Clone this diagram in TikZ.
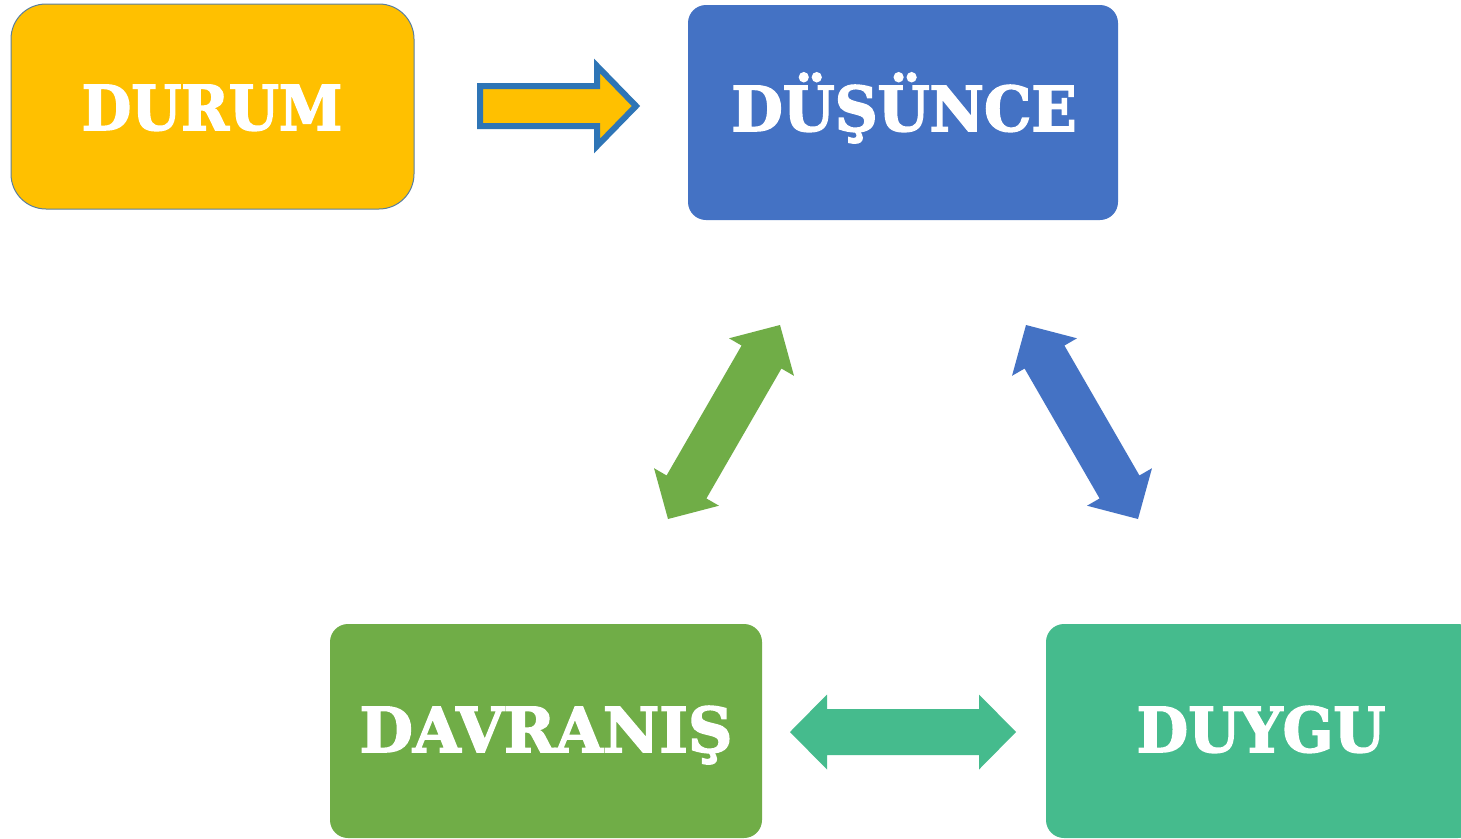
\documentclass[tikz,border=0pt]{standalone}
\usepackage{graphicx}
\usepackage{fontspec}
\setmainfont{DejaVu Serif}
\newfontfamily\labelfont[FakeBold=2.5,FakeStretch=0.96]{DejaVu Serif Bold}
\usetikzlibrary{calc}
\definecolor{cyellow}{HTML}{FFC000}
\definecolor{cblue}{HTML}{4472C4}
\definecolor{cgreen}{HTML}{70AD47}
\definecolor{cteal}{HTML}{45BB8D}
\definecolor{cline}{HTML}{2E75B6}
\definecolor{cborder}{HTML}{5A7F9E}
\newcommand{\blockdbl}[3]{%
  \fill[#3] (#1)
    -- ($(#1)!37pt!(#2)!37.5pt!90:(#2)$)
    -- ($(#1)!37pt!(#2)!23pt!90:(#2)$)
    -- ($(#2)!37pt!(#1)!23pt!-90:(#1)$)
    -- ($(#2)!37pt!(#1)!37.5pt!-90:(#1)$)
    -- (#2)
    -- ($(#2)!37pt!(#1)!37.5pt!90:(#1)$)
    -- ($(#2)!37pt!(#1)!23pt!90:(#1)$)
    -- ($(#1)!37pt!(#2)!23pt!-90:(#2)$)
    -- ($(#1)!37pt!(#2)!37.5pt!-90:(#2)$)
    -- cycle;}
\begin{document}
\begin{tikzpicture}[x=1pt,y=-1pt,
  box/.style={rounded corners=18pt, inner sep=0pt, outer sep=0pt},
  lbl/.style={text=white, inner sep=0pt, anchor=base,
    font=\labelfont\fontsize{62}{62}\selectfont}]
\useasboundingbox (0,0) rectangle (1461,838);
\clip (0,0) rectangle (1461,838);
\fill[white] (0,0) rectangle (1461,838);
% boxes
\node[box, rounded corners=35pt, fill=cyellow, draw=cborder, line width=1pt,
  minimum width=403pt, minimum height=205pt] (durum) at (212.5,106.5) {};
\node[box, fill=cblue, minimum width=430pt, minimum height=215pt] (dusunce) at (903,112.5) {};
\node[box, fill=cgreen, minimum width=432pt, minimum height=214pt] (davranis) at (546,731) {};
\node[box, fill=cteal, minimum width=430pt, minimum height=214pt] (duygu) at (1261,731) {};
% labels
\node[lbl] (tdurum) at (212,130) {\scalebox{0.963}[1]{DURUM}};
\node[lbl] (tdusunce) at (904,131) {DÜŞÜNCE};
\node[lbl] (tdavranis) at (546,752) {\scalebox{1.034}[1]{DAVRANIŞ}};
\node[lbl] (tduygu) at (1261,752) {DUYGU};
% connector end points
\coordinate (ya) at (480,106);
\coordinate (yb) at (636,106);
\coordinate (ga) at (668,519);
\coordinate (gb) at (780,325);
\coordinate (ba) at (1026,325);
\coordinate (bb) at (1138,519);
\coordinate (ta) at (790,732);
\coordinate (tb) at (1016,732);
% yellow arrow
\draw[line width=6pt, draw=cline, fill=cyellow, miter limit=10]
  ($(ya)+(0,-20)$) -- ($(yb)+(-39,-20)$) -- ($(yb)+(-39,-40)$) -- (yb)
  -- ($(yb)+(-39,40)$) -- ($(yb)+(-39,20)$) -- ($(ya)+(0,20)$) -- cycle;
% double arrows
\blockdbl{ga}{gb}{cgreen}
\blockdbl{ba}{bb}{cblue}
\blockdbl{ta}{tb}{cteal}
\end{tikzpicture}
\end{document}
